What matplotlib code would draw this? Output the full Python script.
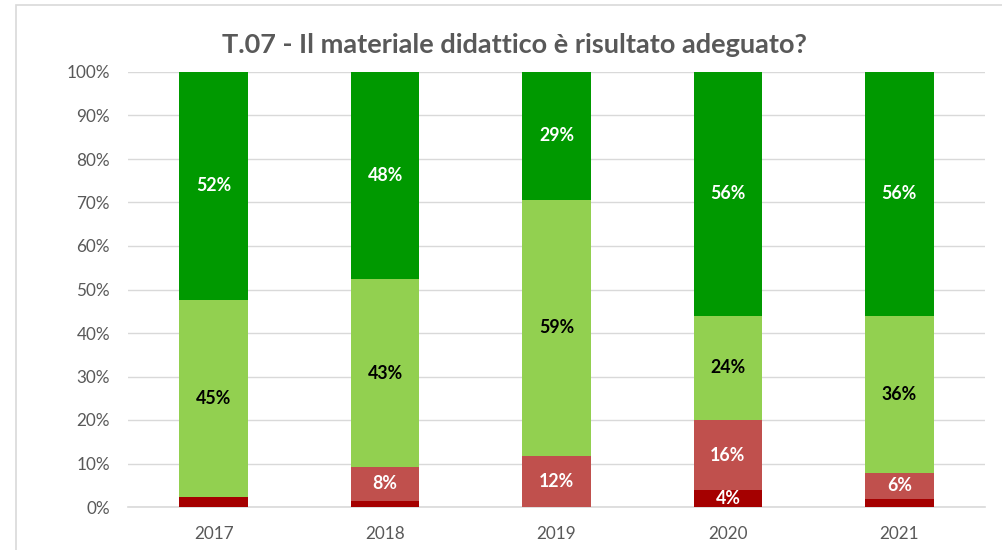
import matplotlib.pyplot as plt
import numpy as np
from matplotlib.patches import Rectangle

years = ['2017', '2018', '2019', '2020', '2021']
dark_red = [2.2, 1.4, 0.0, 3.8, 1.8]
light_red = [0.0, 7.8, 11.7, 16.2, 6.1]
light_green = [45.4, 43.1, 58.9, 24.0, 36.1]
dark_green = [52.4, 47.7, 29.4, 56.0, 56.0]

plt.rcParams['font.family'] = ['Lato', 'DejaVu Sans']

fig = plt.figure(figsize=(10.03, 5.5), dpi=100)
ax = fig.add_axes([128/1003, 1-507/550, 857/1003, 435/550])

series = [
    (dark_red, '#A50000', 'white'),
    (light_red, '#C0504D', 'white'),
    (light_green, '#92D050', 'black'),
    (dark_green, '#009900', 'white'),
]

x = np.arange(len(years))
bottom = np.zeros(len(years))
for vals, col, tcol in series:
    v = np.array(vals)
    ax.bar(x, v, 0.4, bottom=bottom, color=col, zorder=3)
    for i in range(len(v)):
        if v[i] >= 3:
            ax.text(x[i], bottom[i] + v[i]/2, '%d%%' % round(v[i]),
                    ha='center', va='center', color=tcol,
                    fontsize=12.8, fontweight='bold', zorder=4)
    bottom += v

ax.set_xlim(-0.5, 4.5)
ax.set_ylim(0, 100)
ax.set_yticks(np.arange(0, 101, 10))
ax.set_yticklabels(['%d%%' % t for t in range(0, 101, 10)])
ax.set_xticks(x)
ax.set_xticklabels(years)
ax.tick_params(length=0, labelsize=12.3, colors='#595959')
ax.tick_params(axis='x', pad=14)
ax.tick_params(axis='y', pad=13)
ax.grid(axis='y', color='#D9D9D9', lw=1, zorder=0)
for s in ['top', 'right', 'left']:
    ax.spines[s].set_visible(False)
ax.spines['bottom'].set_color('#D9D9D9')
ax.spines['bottom'].set_linewidth(1.2)

fig.text(514/1003, 1-45/550, 'T.07 - Il materiale didattico è risultato adeguato?',
         ha='center', va='center', fontsize=19.5, fontweight='bold', color='#595959')

fig.patches.append(Rectangle((16/1003, -0.1), 1.1, 1.1 - 5/550,
                             transform=fig.transFigure, fill=False,
                             edgecolor='#D9D9D9', lw=1.2))

fig.savefig('out.png', dpi=100)
